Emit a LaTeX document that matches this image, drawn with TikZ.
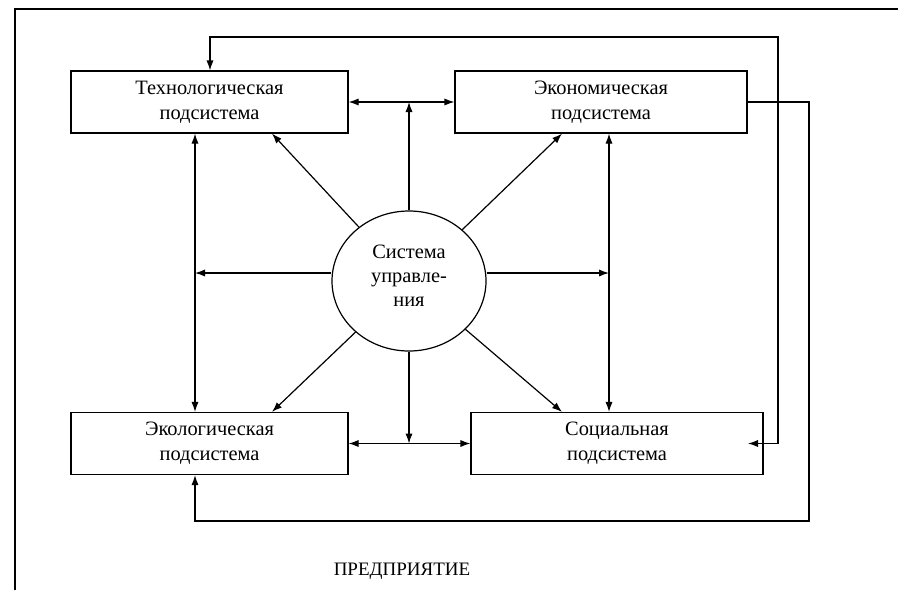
\documentclass[tikz,border=0pt]{standalone}
\usepackage{fontspec}
\setmainfont{Liberation Serif}
\usepackage{tikz}
\usetikzlibrary{shapes.geometric,arrows.meta}

\begin{document}
\begin{tikzpicture}[x=0.5pt,y=-0.5pt,line width=0.6pt,>={Latex[length=5pt,width=3.6pt]},
  box/.style={draw,rectangle,inner sep=0pt,minimum height=31pt,align=center,font=\fontsize{10.2}{12.5}\selectfont},
  ctrlbox/.style={draw,ellipse,inner sep=0pt,minimum width=77pt,minimum height=70pt,align=center,text depth=5pt,font=\fontsize{10.2}{12}\selectfont}]
\useasboundingbox (0,0) rectangle (898,590);

\draw (15,590)--(15,9)--(898,9);

\node[box,minimum width=138.5pt] (tech) at (209.5,102) {Технологическая\\подсистема};
\node[box,minimum width=146pt] (econ) at (601,102) {Экономическая\\подсистема};
\node[box,minimum width=138.5pt] (ecol) at (209.5,443.5) {Экологическая\\подсистема};
\node[box,minimum width=146pt] (soc) at (617,443.5) {Социальная\\подсистема};

\node[ctrlbox] (ctrl) at (409,281) {Система\\управле-\\ния};

\node[font=\fontsize{9.5}{12}\selectfont] (firm) at (402,571) {ПРЕДПРИЯТИЕ};

\coordinate (lv) at (195,273);
\coordinate (rv) at (609,273);
\coordinate (tv) at (409,102);
\coordinate (bv) at (409,443.5);
\coordinate (dl) at (272,0);
\coordinate (dr) at (562,0);
\coordinate (fbt) at (210,37);
\coordinate (fbr) at (778,37);
\coordinate (socin) at (748,443.5);
\coordinate (fbb) at (809,521);

\draw[<->] (tech.south -| lv)--(ecol.north -| lv);
\draw[<->] (econ.south -| rv)--(soc.north -| rv);
\draw[<->] (tech.east)--(econ.west);
\draw[<->] (ecol.east)--(soc.west);

\draw[->] (lv -| ctrl.west)--(lv);
\draw[->] (rv -| ctrl.east)--(rv);
\draw[->] (ctrl)--(tv);
\draw[->] (ctrl)--(bv);

\draw[->] (ctrl)--(tech.south -| dl);
\draw[->] (ctrl)--(econ.south -| dr);
\draw[->] (ctrl)--(ecol.north -| dl);
\draw[->] (ctrl)--(soc.north -| dr);

\draw[<->] (tech.north -| fbt) |- (fbr) |- (socin);
\draw[->] (econ.east) -| (fbb) -| (ecol.south -| lv);

\end{tikzpicture}
\end{document}
